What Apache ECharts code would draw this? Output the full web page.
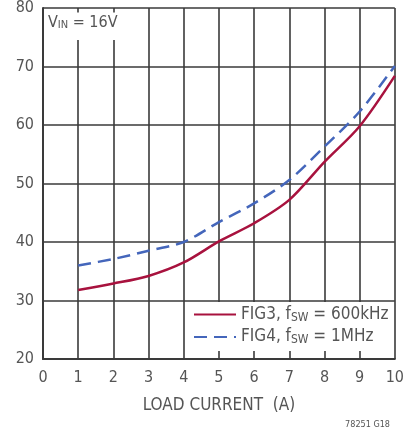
<!DOCTYPE html>
<html><head><meta charset="utf-8">
<script src="https://cdn.jsdelivr.net/npm/echarts@6/dist/echarts.min.js"></script>
<style>html,body{margin:0;padding:0;background:#fff}#c{width:407px;height:429px}</style>
</head><body><div id="c"></div>
<script>
const xValues = [1, 2, 3, 4, 5, 6, 7, 8, 9, 10];
const fig3 = [31.8, 32.9, 34.2, 36.5, 40.1, 43.2, 47.2, 53.7, 59.8, 68.4];
const fig4 = [36.0, 37.1, 38.5, 40.0, 43.4, 46.6, 50.6, 56.3, 62.3, 70.1];
const xTicks = [0,1,2,3,4,5,6,7,8,9,10];
const yTicks = [20,30,40,50,60,70,80];

const FONT = "'DejaVu Sans Condensed','Liberation Sans Narrow',sans-serif";
const TXT = '#555';
const chart = echarts.init(document.getElementById('c'), null, {renderer:'canvas'});
chart.setOption({
  animation:false,
  textStyle:{fontFamily:FONT},
  grid:{left:43, right:12, top:6.5, bottom:70, containLabel:false},
  title:[{
    text:'{v|V}{s|IN}{v| = 16V}',
    left:46, top:12,
    backgroundColor:'#fff', padding:[2,3,9,2],
    textStyle:{rich:{v:{fontSize:16,color:TXT,fontFamily:FONT,fontWeight:'normal'},s:{fontSize:11,color:TXT,fontFamily:FONT,fontWeight:'normal',verticalAlign:'bottom',padding:[6,0,0,0]}}}
  },{
    text:'78251 G18', right:12, top:415,
    textStyle:{fontSize:9,color:'#555',fontWeight:'normal',fontFamily:FONT}
  }],
  legend:{
    data:['FIG3','FIG4'],
    orient:'vertical',
    left:189, top:302,
    backgroundColor:'#fff',
    padding:[4,4,5,4],
    itemGap:5,
    itemWidth:42, itemHeight:14,
    itemStyle:{opacity:0},
    formatter:function(n){return n==='FIG3'?'{t|FIG3, f}{s|SW}{t| = 600kHz}':'{t|FIG4, f}{s|SW}{t| = 1MHz}';},
    textStyle:{rich:{t:{fontSize:17,color:TXT,fontFamily:FONT},s:{fontSize:12,color:TXT,fontFamily:FONT,verticalAlign:'bottom',padding:[6,0,0,0]}}}
  },
  xAxis:{
    type:'value', min:0, max:10, interval:1,
    name:'LOAD CURRENT  (A)', nameLocation:'middle', nameGap:38,
    nameTextStyle:{fontSize:17,color:TXT,fontFamily:FONT},
    axisLine:{show:true,lineStyle:{color:'#3a3a3a',width:2}},
    axisTick:{show:false},
    axisLabel:{fontSize:16,color:TXT,margin:11,fontFamily:FONT},
    splitLine:{show:true,lineStyle:{color:'#3a3a3a',width:1.6}}
  },
  yAxis:{
    type:'value', min:20, max:80, interval:10,
    axisLine:{show:true,lineStyle:{color:'#3a3a3a',width:2}},
    axisTick:{show:false},
    axisLabel:{fontSize:16,color:TXT,margin:9,fontFamily:FONT},
    splitLine:{show:true,lineStyle:{color:'#3a3a3a',width:1.6}}
  },
  series:[{
    name:'FIG3', type:'line', smooth:0.3, symbol:'none',
    data:xValues.map((x,i)=>[x,fig3[i]]),
    lineStyle:{color:'#a8123e',width:2.5},
    itemStyle:{color:'#a8123e'}, z:5
  },{
    name:'FIG4', type:'line', smooth:0.3, symbol:'none',
    data:xValues.map((x,i)=>[x,fig4[i]]),
    lineStyle:{color:'#4466bb',width:2.5,type:[13,7]},
    itemStyle:{color:'#4466bb'}, z:5
  }]
});
</script></body></html>
